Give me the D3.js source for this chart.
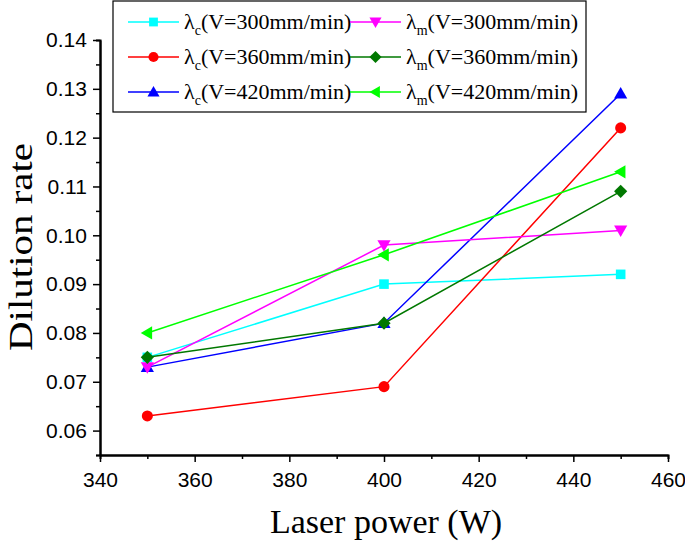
<!DOCTYPE html>
<html><head><meta charset="utf-8">
<script src="https://cdn.jsdelivr.net/npm/d3@7/dist/d3.min.js"></script>
<style>
body{margin:0;background:#fff}svg{display:block}
</style>
</head><body>
<script>
const powers = [350, 400, 450];
const seriesNames = ["c300", "c360", "c420", "m300", "m360", "m420"];
const lambdaSub = ["c", "c", "c", "m", "m", "m"];
const speedLabels = ["(V=300mm/min)", "(V=360mm/min)", "(V=420mm/min)", "(V=300mm/min)", "(V=360mm/min)", "(V=420mm/min)"];
const c300 = [0.075, 0.090, 0.092];
const c360 = [0.063, 0.069, 0.122];
const c420 = [0.073, 0.082, 0.129];
const m300 = [0.073, 0.098, 0.101];
const m360 = [0.075, 0.082, 0.109];
const m420 = [0.080, 0.096, 0.113];
const seriesValues = [c300, c360, c420, m300, m360, m420];
const colors = ["#00ffff", "#ff0000", "#0000ff", "#ff00ff", "#007800", "#00ff00"];
const shapes = ["square", "circle", "triUp", "triDown", "diamond", "triLeft"];
const xTicks = [340, 360, 380, 400, 420, 440, 460];
const yTicks = [0.06, 0.07, 0.08, 0.09, 0.10, 0.11, 0.12, 0.13, 0.14];

const SERIF = "Liberation Serif";
const SANS = "Liberation Sans";
const W = 685, H = 541;
const svg = d3.select("body").append("svg").attr("width", W).attr("height", H);
const x = d3.scaleLinear().domain([340, 460]).range([100, 668]);
const y = d3.scaleLinear().domain([0.055, 0.14]).range([455, 40]);

function markerPath(shape, s) {
  const h = s / 2;
  switch (shape) {
    case "square": return `M${-h * 0.8},${-h * 0.8}H${h * 0.8}V${h * 0.8}H${-h * 0.8}Z`;
    case "circle": return d3.symbol(d3.symbolCircle, Math.PI * h * h * 0.85)();
    case "triUp": return `M0,${-h * 1.1}L${h * 1.1},${h * 0.8}L${-h * 1.1},${h * 0.8}Z`;
    case "triDown": return `M0,${h * 1.1}L${h * 1.1},${-h * 0.8}L${-h * 1.1},${-h * 0.8}Z`;
    case "diamond": return `M0,${-h * 1.1}L${h * 1.1},0L0,${h * 1.1}L${-h * 1.1},0Z`;
    case "triLeft": return `M${-h * 1.1},0L${h * 0.8},${-h * 1.1}L${h * 0.8},${h * 1.1}Z`;
  }
}

const xAxis = d3.axisBottom(x).tickValues(xTicks).tickSize(7).tickSizeOuter(0).tickFormat(d3.format("d"));
const xMinor = d3.axisBottom(x).tickValues(d3.range(350, 460, 20)).tickSize(4).tickFormat("");
const yAxis = d3.axisLeft(y).tickValues(yTicks).tickSize(7).tickSizeOuter(0).tickFormat(d3.format(".2f"));
const yMinor = d3.axisLeft(y).tickValues(d3.range(0.055, 0.14, 0.01).map(v => +v.toFixed(3))).tickSize(4).tickFormat("");

function styleAxis(g) {
  g.attr("font-family", SANS).attr("font-size", 21);
  g.selectAll("path.domain").attr("stroke", "#000").attr("stroke-width", 2);
  g.selectAll("line").attr("stroke", "#000").attr("stroke-width", 1.5);
  g.selectAll("text").attr("font-family", SANS).attr("font-size", 21).attr("fill", "#000");
}
svg.append("g").attr("transform", "translate(0,455)").call(xMinor).call(styleAxis);
svg.append("g").attr("transform", "translate(0,455)").call(xAxis).call(styleAxis)
  .selectAll("text").attr("dy", "1.05em");
svg.append("g").attr("transform", "translate(100,0)").call(yMinor).call(styleAxis);
svg.append("g").attr("transform", "translate(100,0)").call(yAxis).call(styleAxis)
  .selectAll("text").attr("dx", "-0.15em");

svg.append("text").attr("font-family", SERIF).attr("x", 386).attr("y", 533).attr("text-anchor", "middle")
  .attr("font-size", 34).text("Laser power (W)");
svg.append("text").attr("font-family", SERIF).attr("transform", "translate(32,247) rotate(-90)").attr("text-anchor", "middle")
  .attr("font-size", 33).attr("textLength", 208).attr("lengthAdjust", "spacingAndGlyphs").text("Dilution rate");

const line = d3.line().x((d, i) => x(powers[i])).y(d => y(d));
seriesValues.forEach((vals, si) => {
  const g = svg.append("g");
  g.append("path").attr("d", line(vals)).attr("fill", "none").attr("stroke", colors[si]).attr("stroke-width", 1.5);
  g.selectAll("path.m").data(vals).enter().append("path").attr("class", "m")
    .attr("transform", (d, i) => `translate(${x(powers[i])},${y(d)})`)
    .attr("d", markerPath(shapes[si], 12)).attr("fill", colors[si]);
});

const leg = svg.append("g");
leg.append("rect").attr("x", 113).attr("y", 1).attr("width", 473).attr("height", 111)
  .attr("fill", "#fff").attr("stroke", "#000").attr("stroke-width", 1.2);
seriesNames.forEach((n, si) => {
  const col = si < 3 ? 0 : 1, row = si % 3;
  const lx = col === 0 ? 128 : 350, ly = 22 + row * 35;
  leg.append("line").attr("x1", lx).attr("x2", lx + 51).attr("y1", ly).attr("y2", ly).attr("stroke", colors[si]).attr("stroke-width", 1.5);
  leg.append("path").attr("transform", `translate(${lx + 25.5},${ly})`).attr("d", markerPath(shapes[si], 11)).attr("fill", colors[si]);
  const t = leg.append("text").attr("font-family", SERIF).attr("x", lx + 56).attr("y", ly + 7).attr("font-size", 22);
  t.append("tspan").text("λ");
  t.append("tspan").attr("dy", 6).attr("font-size", 14).text(lambdaSub[si]);
  t.append("tspan").attr("dy", -6).text(speedLabels[si]);
});
</script>
</body></html>
